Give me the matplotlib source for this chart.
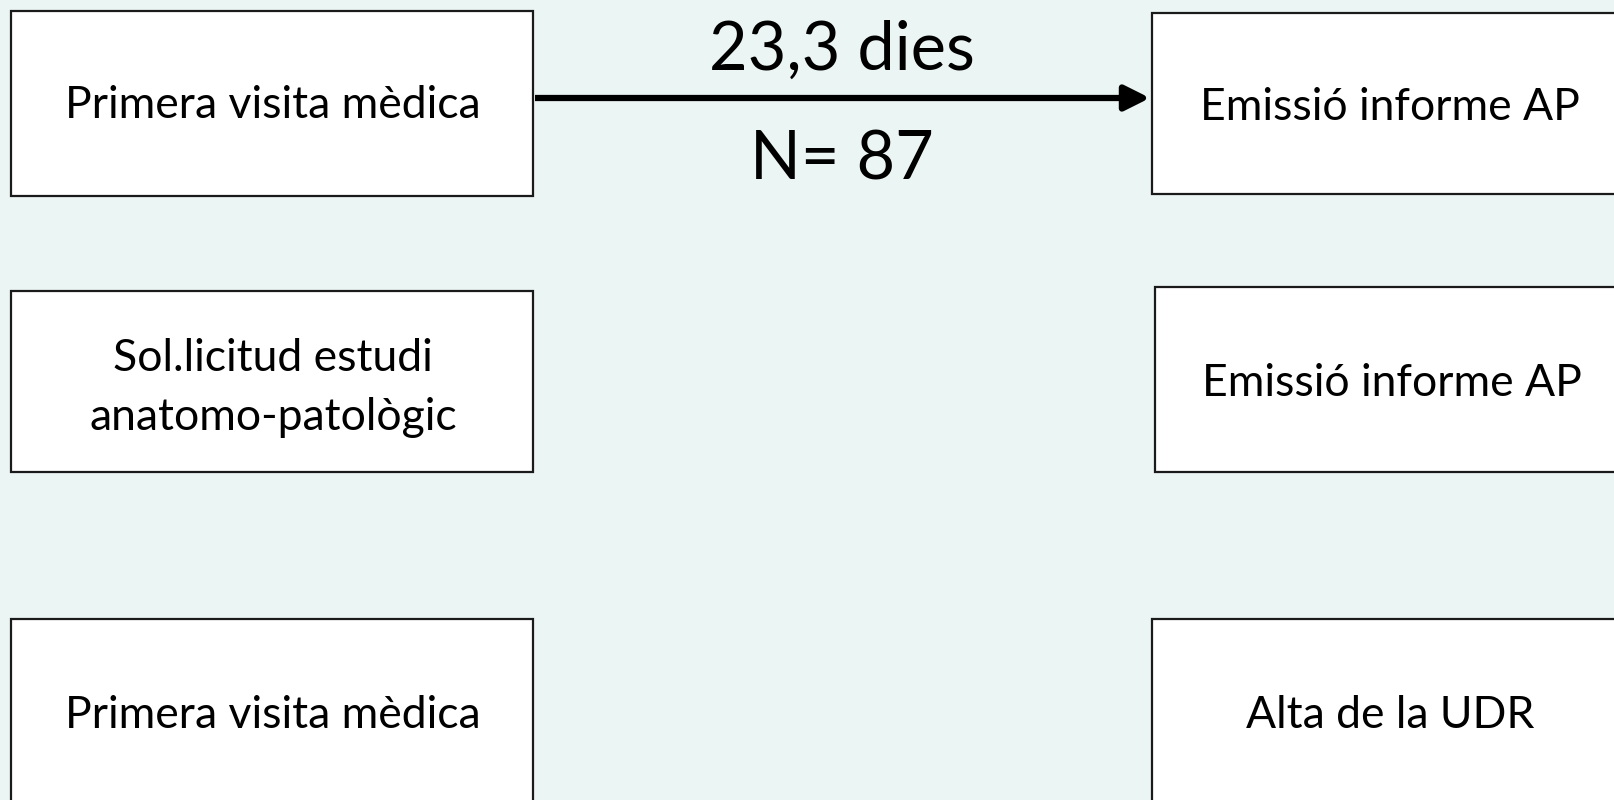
import matplotlib
matplotlib.use("Agg")
import matplotlib.pyplot as plt
from matplotlib.patches import Rectangle

# ---- content ----
left_labels = ["Primera visita mèdica", "Sol.licitud estudi\nanatomo-patològic", "Primera visita mèdica"]
right_labels = ["Emissió informe AP", "Emissió informe AP", "Alta de la UDR"]
arrow_value = "23,3 dies"
arrow_n = "N= 87"

FONT = ["Lato", "DejaVu Sans"]
BG = "#EBF5F3"

fig = plt.figure(figsize=(16.14, 8.0), dpi=100)
fig.patch.set_facecolor(BG)
ax = fig.add_axes([0, 0, 1, 1])
ax.set_facecolor(BG)
ax.set_xlim(0, 1614)
ax.set_ylim(800, 0)
ax.axis("off")

# box geometry (pixels): (x0, y0, x1, y1)
left_boxes = [(11, 11, 533, 196), (11, 291, 533, 472), (11, 619, 533, 830)]
right_boxes = [(1152, 13, 1650, 194), (1155, 287, 1650, 472), (1152, 619, 1650, 830)]
left_text_x = 273
right_text_x = [1390, 1392, 1390]
left_text_y = [106, 388, 715]
right_text_y = [108, 384, 715]

for (x0, y0, x1, y1), lab, ty in zip(left_boxes, left_labels, left_text_y):
    ax.add_patch(Rectangle((x0, y0), x1 - x0, y1 - y0, facecolor="white",
                           edgecolor="#1a1a1a", lw=1.6, zorder=2))
    ax.text(left_text_x, ty, lab, ha="center", va="center", fontsize=32,
            family=FONT, color="black", linespacing=1.52, zorder=3)

for (x0, y0, x1, y1), lab, tx, ty in zip(right_boxes, right_labels, right_text_x, right_text_y):
    ax.add_patch(Rectangle((x0, y0), x1 - x0, y1 - y0, facecolor="white",
                           edgecolor="#1a1a1a", lw=1.6, zorder=2))
    ax.text(tx, ty, lab, ha="center", va="center", fontsize=32,
            family=FONT, color="black", zorder=3)

# arrow
ax.annotate("", xy=(1150, 98), xytext=(535, 98),
            arrowprops=dict(arrowstyle="-|>", lw=4.5, color="black",
                            capstyle="butt", mutation_scale=38,
                            shrinkA=0, shrinkB=0), zorder=4)
ax.text(842, 51, arrow_value, ha="center", va="center", fontsize=48,
        family=FONT, color="black")
ax.text(842, 160, arrow_n, ha="center", va="center", fontsize=48,
        family=FONT, color="black")

fig.savefig("out.png", dpi=100, facecolor=BG)
